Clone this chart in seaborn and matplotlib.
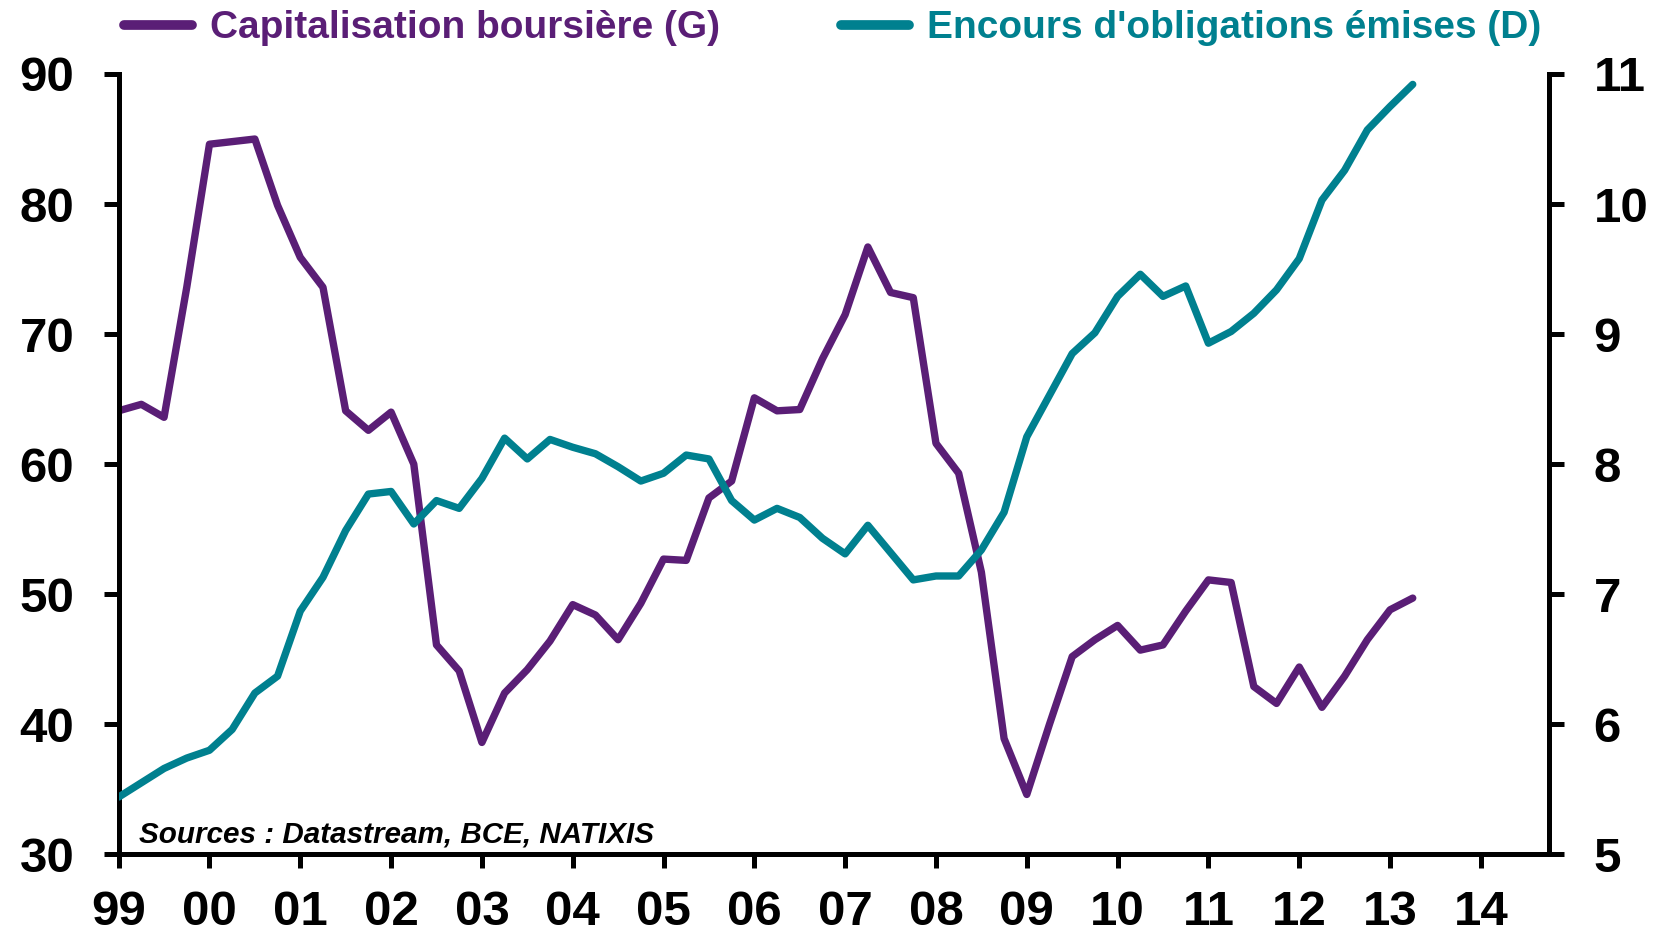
import numpy as np
import pandas as pd
import matplotlib
matplotlib.use("Agg")
import matplotlib.pyplot as plt
import seaborn as sns
from matplotlib.lines import Line2D

# Quarterly data, 1999Q1 - 2013Q2
quarters = pd.period_range("1999Q1", "2013Q2", freq="Q")

# Capitalisation boursiere (left axis)
cap_bourse = [64.1, 64.6, 63.6, 73.6, 84.6, 84.8, 85.0, 79.9,
              75.9, 73.6, 64.1, 62.6, 64.0, 60.0, 46.1, 44.1,
              38.6, 42.4, 44.2, 46.4, 49.2, 48.4, 46.5, 49.3,
              52.7, 52.6, 57.4, 58.7, 65.1, 64.1, 64.2, 68.1,
              71.5, 76.7, 73.2, 72.8, 61.6, 59.3, 51.7, 38.9,
              34.6, 40.0, 45.2, 46.5, 47.6, 45.7, 46.1, 48.7,
              51.1, 50.9, 42.9, 41.6, 44.4, 41.3, 43.7, 46.5,
              48.8, 49.7]

# Encours d'obligations emises (right axis)
encours_oblig = [5.44, 5.55, 5.66, 5.74, 5.80, 5.96, 6.24, 6.37,
                 6.87, 7.13, 7.49, 7.77, 7.79, 7.54, 7.72, 7.66,
                 7.89, 8.20, 8.04, 8.19, 8.13, 8.08, 7.98, 7.87,
                 7.93, 8.07, 8.04, 7.72, 7.57, 7.66, 7.59, 7.43,
                 7.31, 7.53, 7.32, 7.11, 7.14, 7.14, 7.34, 7.63,
                 8.21, 8.53, 8.85, 9.01, 9.29, 9.46, 9.29, 9.37,
                 8.93, 9.02, 9.16, 9.34, 9.58, 10.03, 10.26, 10.57,
                 10.75, 10.92]

year_ticks = list(range(1999, 2015))
year_labels = ["99", "00", "01", "02", "03", "04", "05", "06",
               "07", "08", "09", "10", "11", "12", "13", "14"]

left_ticks = [30, 40, 50, 60, 70, 80, 90]
right_ticks = [5, 6, 7, 8, 9, 10, 11]

label_g = "Capitalisation boursière (G)"
label_d = "Encours d'obligations émises (D)"

PURPLE = "#5A1E76"
TEAL = "#00808F"

df = pd.DataFrame({
    "t": quarters.year + (quarters.quarter - 1) / 4.0,
    "cap": cap_bourse,
    "oblig": encours_oblig,
})

sns.set_style("white")
plt.rcParams["font.family"] = ["Liberation Sans", "DejaVu Sans"]
plt.rcParams["font.weight"] = "bold"
plt.rcParams["text.color"] = "black"
plt.rcParams["xtick.color"] = "black"
plt.rcParams["ytick.color"] = "black"
plt.rcParams["xtick.labelcolor"] = "black"
plt.rcParams["ytick.labelcolor"] = "black"

fig = plt.figure(figsize=(16.57, 9.39), dpi=100)
ax = fig.add_axes([0.0716, 0.0902, 0.9348 - 0.0716, 0.9212 - 0.0902])
ax2 = ax.twinx()

line_kw = dict(linewidth=5.3, solid_capstyle="round", solid_joinstyle="round")
sns.lineplot(data=df, x="t", y="cap", ax=ax, color=PURPLE, **line_kw)
sns.lineplot(data=df, x="t", y="oblig", ax=ax2, color=TEAL, **line_kw)

ax.set_xlim(1999, 2014.75)
ax.set_ylim(30, 90)
ax2.set_ylim(5, 11)
ax.set_xticks(year_ticks)
ax.set_xticklabels(year_labels)
ax.set_yticks(left_ticks)
ax2.set_yticks(right_ticks)
ax.set_xlabel("")
ax.set_ylabel("")
ax2.set_ylabel("")

spine_w = 3.6
for a in (ax, ax2):
    for s in a.spines.values():
        s.set_linewidth(spine_w)
        s.set_color("black")
    a.spines["top"].set_visible(False)
ax.spines["right"].set_visible(False)
ax2.spines["left"].set_visible(False)
ax2.spines["bottom"].set_visible(False)

ax.tick_params(axis="x", direction="out", length=10, width=spine_w,
               labelsize=35.5, pad=16, bottom=True, colors="black")
ax.tick_params(axis="y", direction="out", length=11, width=spine_w,
               labelsize=35.5, pad=21, left=True, colors="black")
ax2.tick_params(axis="y", direction="out", length=11, width=spine_w,
                labelsize=35.5, pad=21, right=True, colors="black")
for lab in ax.get_xticklabels() + ax.get_yticklabels() + ax2.get_yticklabels():
    lab.set_fontweight("bold")

ax.text(0.0143, 0.0145, "Sources : Datastream, BCE, NATIXIS",
        transform=ax.transAxes, fontsize=21.3, fontstyle="italic",
        fontweight="bold", va="baseline", ha="left", color="black")

handles = [Line2D([], [], color=PURPLE, linewidth=7, solid_capstyle="round"),
           Line2D([], [], color=TEAL, linewidth=7, solid_capstyle="round")]
leg = fig.legend(handles, [label_g, label_d], loc="center left",
                 bbox_to_anchor=(0.075, 0.970), ncol=2, frameon=False,
                 handlelength=1.75, handletextpad=0.46,
                 columnspacing=3.1, borderpad=0, borderaxespad=0,
                 prop={"weight": "bold", "size": 28})
leg.get_texts()[0].set_color(PURPLE)
leg.get_texts()[1].set_color(TEAL)

fig.savefig("out.png", dpi=100)
